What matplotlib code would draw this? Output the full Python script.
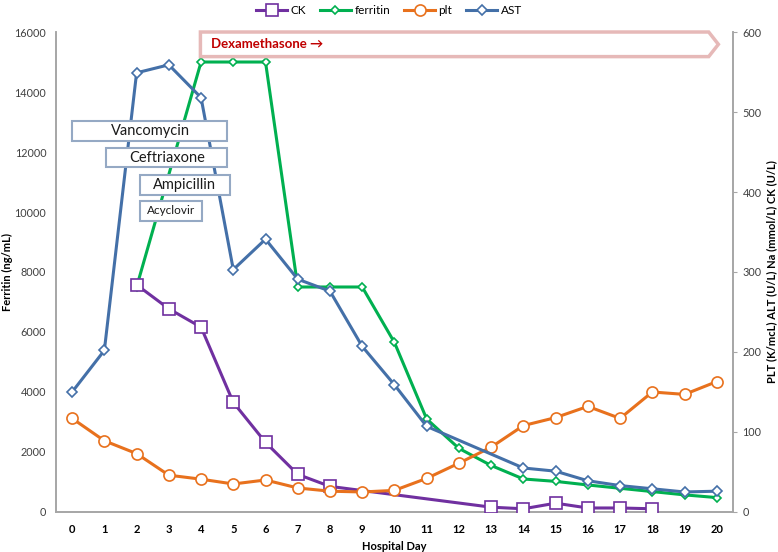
import matplotlib.pyplot as plt
import numpy as np
from matplotlib.patches import Rectangle, Polygon

plt.rcParams['font.family'] = ['Lato', 'DejaVu Sans']

# Hospital day
days = list(range(21))

# Ferritin (ng/mL) - left axis
ferritin = [np.nan, np.nan, 7500, np.nan, 15000, 15000, 15000, 7500, 7500, 7500,
            5650, 3100, 2120, 1550, 1100, 1020, 900, 790, 680, 570, 480]

# Right axis series
ck = [np.nan, np.nan, 284, 254, 231, 137, 87, 47, 32, np.nan,
      np.nan, np.nan, np.nan, 6, 4, 11, 5, 5, 4, np.nan, np.nan]
plt_vals = [117, 89, 73, 46, 41, 35, 40, 30, 26, 25,
            27, 42, 61, 81, 108, 118, 132, 117, 150, 147, 163]
ast = [150, 202, 549, 559, 518, 303, 341, 291, 276, 207,
       159, 107, np.nan, np.nan, 55, 51, 39, 33, 29, 25, 26]

# Drug annotation boxes: (label, x0, x1, y0, y1, fontsize)
drugs = [
    ('Vancomycin', 0.01, 4.82, 12377, 13043, 10.5),
    ('Ceftriaxone', 1.05, 4.82, 11490, 12143, 10.5),
    ('Ampicillin', 2.1, 4.9, 10567, 11233, 10.5),
    ('Acyclovir', 2.1, 4.02, 9700, 10367, 8.5),
]

c_ck = '#7030A0'
c_fer = '#00B050'
c_plt = '#E8711D'
c_ast = '#4470A8'
grey = '#A6A6A6'


def series(x, y):
    """Retire les valeurs manquantes pour relier les points"""
    x = np.array(x, dtype=float)
    y = np.array(y, dtype=float)
    m = ~np.isnan(y)
    return x[m], y[m]


fig = plt.figure(figsize=(7.78, 5.52), dpi=100)
rect = [0.072, 0.0725, 0.870, 0.8695]
ax = fig.add_axes(rect)
ax2 = ax.twinx()

x, y = series(days, ferritin)
l_fer, = ax.plot(x, y, color=c_fer, lw=2.2, marker='D', ms=4.5,
                 mfc='white', mec=c_fer, mew=1.2, zorder=3)

x, y = series(days, ck)
l_ck, = ax2.plot(x, y, color=c_ck, lw=2.2, marker='s', ms=8,
                 mfc='white', mec=c_ck, mew=1.2, zorder=3)
x, y = series(days, plt_vals)
l_plt, = ax2.plot(x, y, color=c_plt, lw=2.2, marker='o', ms=8,
                  mfc='white', mec=c_plt, mew=1.2, zorder=3)
x, y = series(days, ast)
l_ast, = ax2.plot(x, y, color=c_ast, lw=2.2, marker='D', ms=5,
                  mfc='white', mec=c_ast, mew=1.2, zorder=3)

ax.set_xlim(-0.5, 20.5)
ax.set_ylim(0, 16000)
ax2.set_ylim(0, 600)
ax.set_xticks(days)
ax.set_yticks(range(0, 16001, 2000))
ax2.set_yticks(range(0, 601, 100))

for a in (ax, ax2):
    a.spines['top'].set_visible(False)
    for s in ('left', 'right', 'bottom'):
        a.spines[s].set_color(grey)
        a.spines[s].set_linewidth(1.2)

ax.tick_params(axis='x', length=0, pad=9, labelsize=8)
for lbl in ax.get_xticklabels():
    lbl.set_fontweight('bold')
ax.tick_params(axis='y', length=0, labelsize=7.8, labelcolor='#404040', pad=7)
ax2.tick_params(axis='y', length=3, color=grey, labelsize=7.8, labelcolor='#404040', pad=4)

ax.set_xlabel('Hospital Day', fontsize=8, fontweight='bold', labelpad=4)
ax.set_ylabel('Ferritin (ng/mL)', fontsize=8, fontweight='bold')
ax.yaxis.set_label_coords(-0.064, 0.5)
ax2.set_ylabel('PLT (K/mcL) ALT (U/L) Na (mmol/L) CK (U/L)', fontsize=8,
               fontweight='bold')
ax2.yaxis.set_label_coords(1.049, 0.5)

# Encadrés des antibiotiques (au-dessus des courbes)
ax3 = fig.add_axes(rect, zorder=5)
ax3.set_xlim(-0.5, 20.5)
ax3.set_ylim(0, 16000)
ax3.axis('off')
for name, x0, x1, y0, y1, fs in drugs:
    ax3.add_patch(Rectangle((x0, y0), x1 - x0, y1 - y0, facecolor='white',
                            edgecolor='#95A9C4', lw=1.5, zorder=5))
    ax3.text((x0 + x1) / 2, (y0 + y1) / 2, name, ha='center', va='center',
             fontsize=fs, color='#1a1a1a', zorder=6)

# Flèche Dexaméthasone
pts = [(3.98, 15180), (19.75, 15180), (20.05, 15590), (19.75, 16000), (3.98, 16000)]
ax3.add_patch(Polygon(pts, closed=True, facecolor='white', edgecolor='#E6B9B8',
                      lw=2.5, zorder=5, clip_on=False))
ax3.text(4.3, 15590, 'Dexamethasone \u2192', ha='left', va='center', fontsize=9.5,
         fontweight='bold', color='#C00000', zorder=6)

fig.legend([l_ck, l_fer, l_plt, l_ast], ['CK', 'ferritin', 'plt', 'AST'],
           loc='upper center', bbox_to_anchor=(0.5, 1.01), ncol=4, frameon=False,
           fontsize=8.5, handlelength=2.6, columnspacing=1.2, handletextpad=0.3)

fig.savefig('out.png', dpi=100)
